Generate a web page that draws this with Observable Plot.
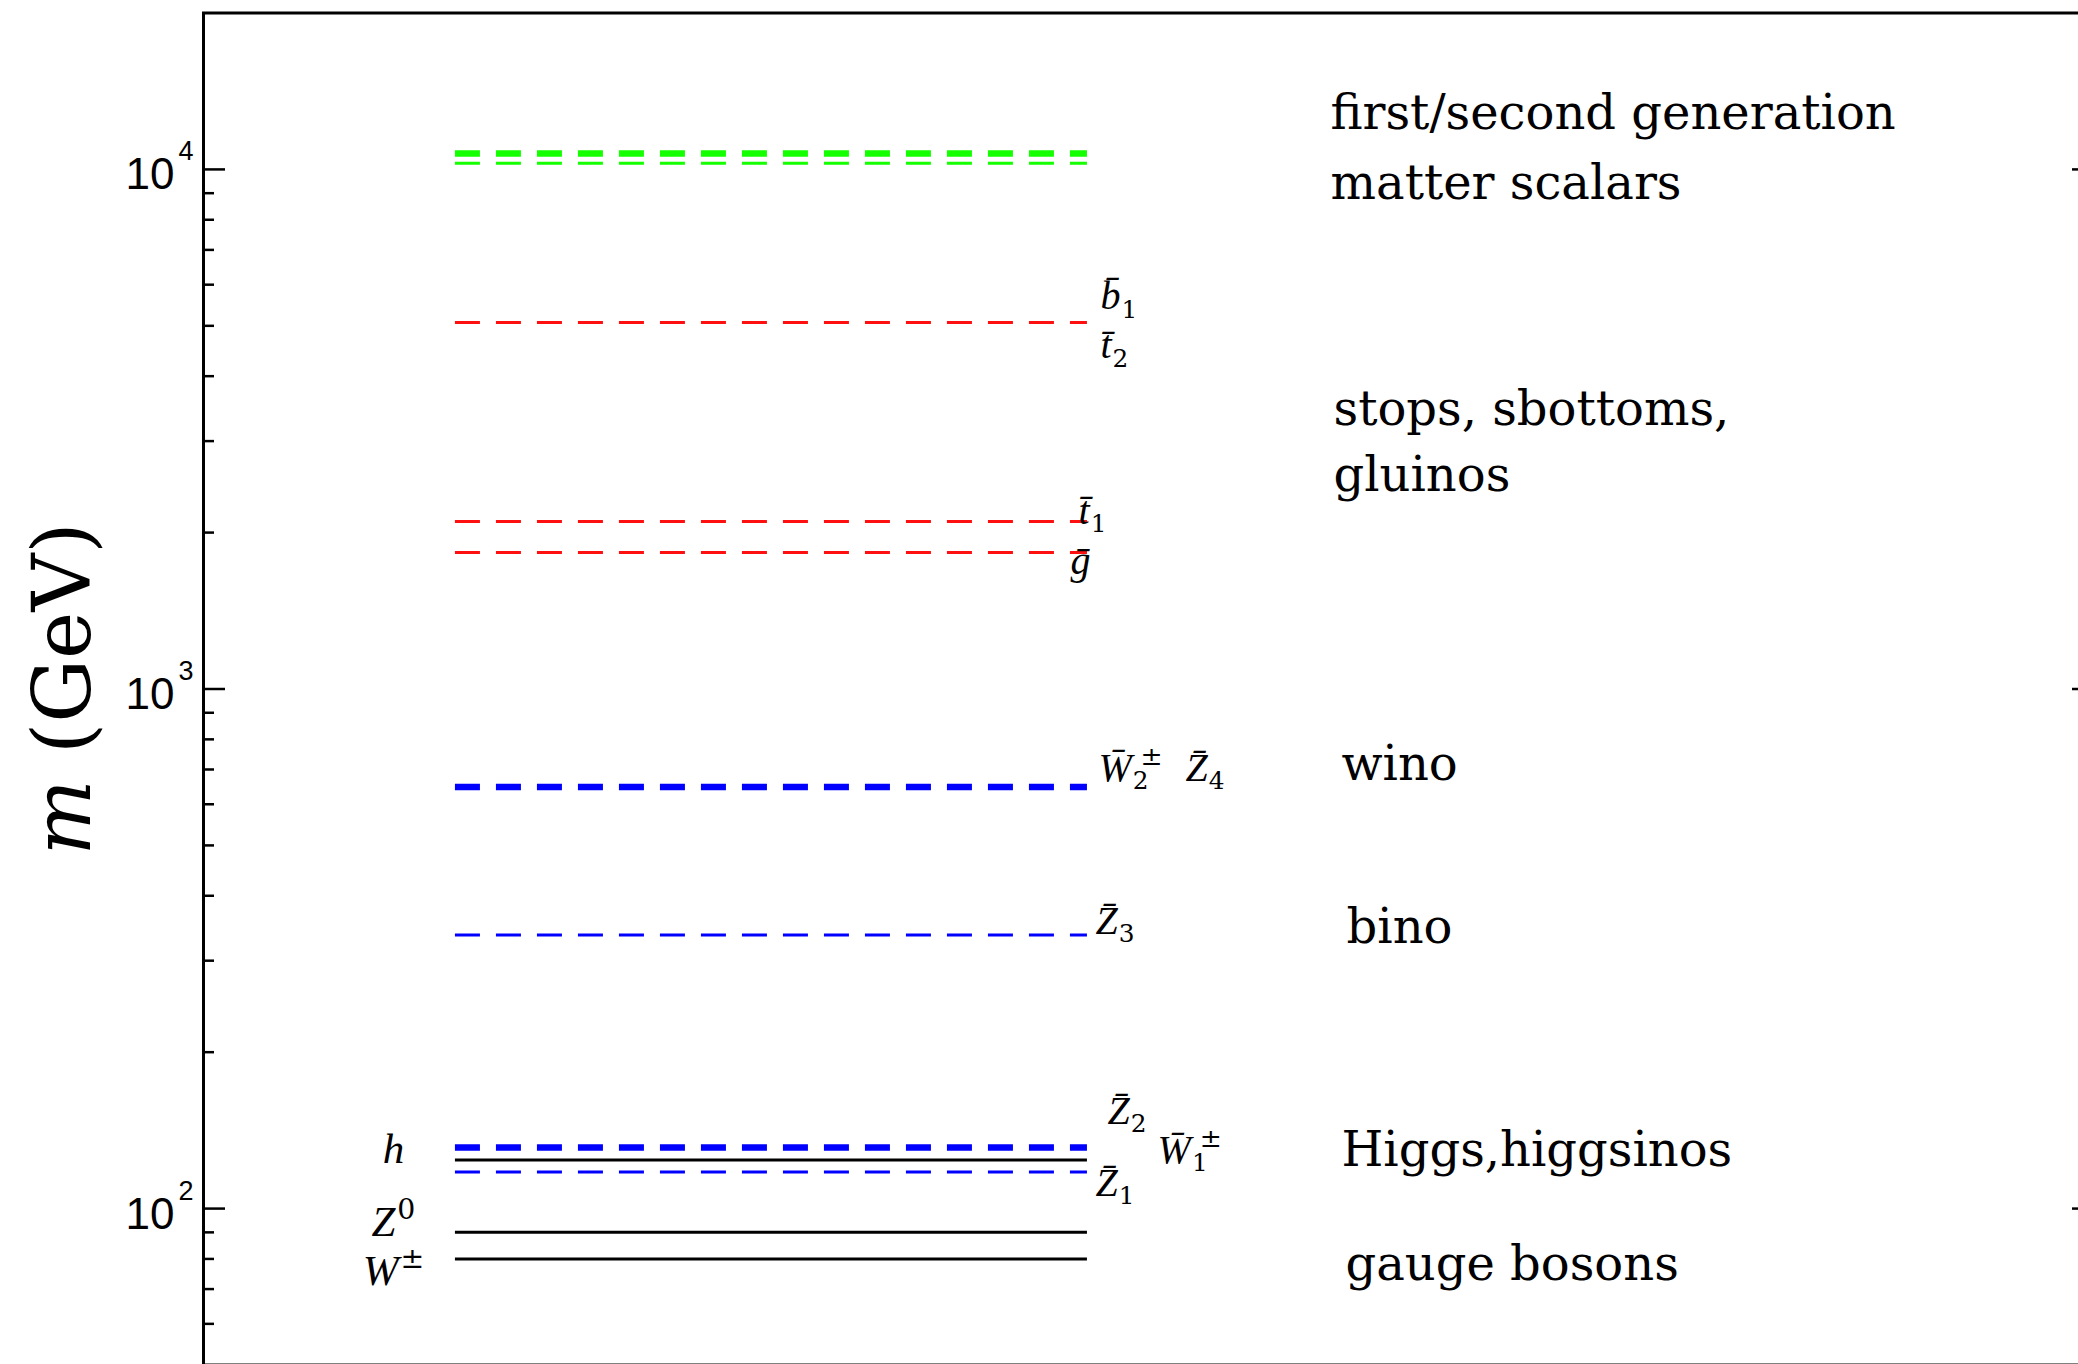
<!DOCTYPE html>
<html>
<head>
<meta charset="utf-8">
<script src="https://cdn.jsdelivr.net/npm/d3@7"></script>
<script src="https://cdn.jsdelivr.net/npm/@observablehq/plot@0.6"></script>
<style>
  html, body { margin: 0; padding: 0; background: #fff; overflow: hidden; }
  #chart svg { display: block; }
</style>
</head>
<body>
<div id="chart"></div>
<script>
// ---------------- DATA ----------------
// mass levels (GeV)
const levelNames  = ["1st/2nd gen. scalars (a)", "1st/2nd gen. scalars (b)", "b1/t2", "t1", "gluino",
                     "W2/Z4", "Z3", "Z2/W1", "h", "Z1", "Z0", "W"];
const levelMasses = [10730, 10280, 5074, 2101, 1831, 648, 336, 131.1, 124, 117.6, 90, 80];
const levelKinds  = ["matter", "matter", "third", "third", "third",
                     "gaugino", "gaugino", "higgsino", "sm", "higgsino", "sm", "sm"];

// particle labels (markup: _ subscript, ^ superscript)
const particleLabels     = ["b̄_1", "t̄_2", "t̄_1", "ḡ", "W̄_2^±", "Z̄_4", "Z̄_3", "Z̄_2", "W̄_1^±", "Z̄_1"];
const particleLabelMass  = [5377, 4326, 2082, 1668, 666.5, 666.5, 338.3, 145.8, 122.6, 105.9];
const smLabels           = ["h", "Z^0", "W^±"];
const smLabelMass        = [122.6, 88.7, 71.4];

// group descriptions
const groupLines    = ["first/second generation", "matter scalars", "stops, sbottoms,", "gluinos",
                       "wino", "bino", "Higgs,higgsinos", "gauge bosons"];
const groupLineMass = [11935, 8790, 3215, 2410, 669.6, 325.1, 121, 73.0];

// axis ticks
const majorTicks    = [100, 1000, 10000];
const tickExponents = ["2", "3", "4"];
const minorTicks    = [60, 70, 80, 90, 200, 300, 400, 500, 600, 700, 800, 900,
                       2000, 3000, 4000, 5000, 6000, 7000, 8000, 9000];
const yLabel = "m (GeV)";

// ---------------- LAYOUT / STYLE ----------------
const lineX1 = 13.33, lineX2 = 46.77;                 // x extent of the level lines (x domain 0..100)
const particleLabelX = [47.46, 47.46, 46.30, 45.87, 47.35, 51.96, 47.20, 47.83, 50.48, 47.20];
const smLabelX = 10.05;
const groupLineX = [59.63, 59.63, 59.79, 59.79, 60.21, 60.48, 60.21, 60.42];

const kindColor = {matter: "#14ff00", third: "#ff1010", gaugino: "#0000ff", higgsino: "#0000ff", sm: "#000000"};
const thickLevels = new Set(["1st/2nd gen. scalars (a)", "W2/Z4", "Z2/W1"]);

const levels = levelNames.map((name, i) => ({name, mass: levelMasses[i], kind: levelKinds[i]}));
const dashedLevels = levels.filter(d => d.kind !== "sm");
const solidLevels = levels.filter(d => d.kind === "sm");
const plabels = particleLabels.map((t, i) => ({t, m: particleLabelMass[i], x: particleLabelX[i]}));
const slabels = smLabels.map((t, i) => ({t, m: smLabelMass[i]}));
const glabels = groupLines.map((t, i) => ({t, m: groupLineMass[i], x: groupLineX[i]}));

const PF = 40; // particle label font size
const SF = 43; // SM label font size
const serifItalic = "Liberation Serif, Times New Roman, serif";

const chart = Plot.plot({
  width: 2078,
  height: 1364,
  marginLeft: 203,
  marginRight: -15,
  marginTop: 12.5,
  marginBottom: -0.5,
  style: {background: "white", color: "black", overflow: "hidden"},
  x: {domain: [0, 100], axis: null},
  y: {type: "log", domain: [50, 20000], axis: null},
  marks: [
    Plot.frame({stroke: "black", strokeWidth: 3}),
    Plot.axisY(minorTicks, {anchor: "left", tickSize: -11, strokeWidth: 2.5, fill: "none", label: null}),
    Plot.axisY(majorTicks, {anchor: "left", tickSize: -22, strokeWidth: 2.5, fill: "none", label: null}),
    Plot.axisY(majorTicks, {anchor: "right", tickSize: -22, strokeWidth: 2.5, fill: "none", label: null}),
    Plot.axisY(minorTicks, {anchor: "right", tickSize: -11, strokeWidth: 2.5, fill: "none", label: null}),
    // tick labels 10^n
    Plot.text(majorTicks, {y: d => d, frameAnchor: "left", text: () => "10", textAnchor: "end",
      lineAnchor: "bottom", dx: -29, dy: 20, fontSize: 44, fontFamily: "Liberation Sans, Arial, sans-serif", fill: "black"}),
    Plot.text(majorTicks, {y: d => d, frameAnchor: "left", text: (d, i) => tickExponents[i], textAnchor: "start",
      lineAnchor: "bottom", dx: -25, dy: -9, fontSize: 27, fontFamily: "Liberation Sans, Arial, sans-serif", fill: "black"}),
    // y label
    Plot.text([yLabel], {frameAnchor: "left", text: d => d, rotate: -90, dx: -139, textAnchor: "middle",
      lineAnchor: "middle", fontSize: 80, fontFamily: "DejaVu Serif, serif", fill: "black", ariaDescription: "ylabel"}),
    // levels
    Plot.ruleY(dashedLevels, {
      y: "mass", x1: () => lineX1, x2: () => lineX2,
      stroke: d => kindColor[d.kind],
      strokeWidth: d => thickLevels.has(d.name) ? 6.5 : 3,
      strokeDasharray: "25,16"
    }),
    Plot.ruleY(solidLevels, {
      y: "mass", x1: () => lineX1, x2: () => lineX2,
      stroke: d => kindColor[d.kind],
      strokeWidth: 3
    }),
    // particle labels
    Plot.text(plabels, {x: "x", y: "m", text: "t", textAnchor: "start", lineAnchor: "bottom",
      fontSize: PF, fontStyle: "italic", fontFamily: serifItalic, fill: "black", ariaDescription: "plabels"}),
    Plot.text(slabels, {x: () => smLabelX, y: "m", text: "t", textAnchor: "middle", lineAnchor: "bottom",
      fontSize: SF, fontStyle: "italic", fontFamily: serifItalic, fill: "black", ariaDescription: "slabels"}),
    // group labels
    Plot.text(glabels, {x: "x", y: "m", text: "t", textAnchor: "start", lineAnchor: "bottom",
      fontSize: 48, fontFamily: "DejaVu Serif, serif", fill: "black"})
  ]
});

document.getElementById("chart").appendChild(chart);

// rich text: sub/superscripts (upright, DejaVu Serif like the TeX digits)
function richify(desc, F) {
  d3.select(chart).selectAll(`g[aria-description="${desc}"] text`).each(function () {
    const s = this.textContent;
    const m = s.match(/^([^_^]*)(?:_([^^]*))?(?:\^(.*))?$/);
    if (!m) return;
    const [, base, sub, sup] = m;
    const el = d3.select(this);
    el.text(null);
    el.append("tspan").text(base);
    if (sub) el.append("tspan").attr("font-size", F * 0.62).attr("font-style", "normal")
      .attr("font-family", "DejaVu Serif, serif").attr("dx", 1).attr("dy", 0.21 * F).text(sub);
    if (sup) {
      const t = el.append("tspan").attr("font-size", F * 0.66).attr("font-style", "normal")
        .attr("font-family", "DejaVu Serif, serif")
        .attr("dy", sub ? -0.59 * F : -0.38 * F).text(sup);
      if (sub) t.attr("dx", -0.2 * F);
      else t.attr("dx", 2);
    }
  });
}
richify("plabels", PF);
richify("slabels", SF);

// italic "m" in axis label
d3.select(chart).selectAll('g[aria-description="ylabel"] text').each(function () {
  const s = this.textContent;
  const el = d3.select(this);
  el.text(null);
  el.append("tspan").attr("font-style", "italic").text(s.slice(0, 1));
  el.append("tspan").text(s.slice(1));
});
</script>
</body>
</html>
